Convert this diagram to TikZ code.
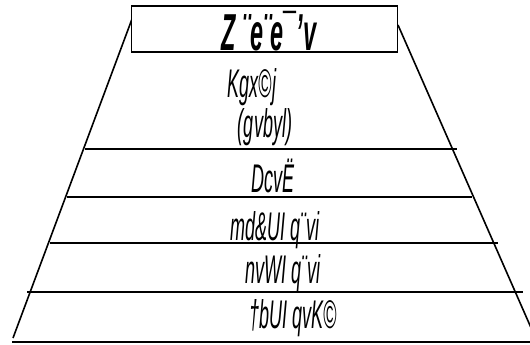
\documentclass[tikz,border=0pt]{standalone}
\usepackage{fontspec}
\setmainfont{Liberation Sans}
\newfontfamily\garb[FakeStretch=0.45]{Liberation Sans}
\begin{document}
\begin{tikzpicture}[x=1pt,y=-1pt,
  edge/.style={line width=1.6pt,line cap=butt},
  lbl/.style={font=\garb\itshape\fontsize{40}{42}\selectfont,inner sep=0pt,anchor=center},
  ttl/.style={font=\garb\bfseries\itshape\fontsize{52}{54}\selectfont,inner sep=0pt,anchor=center}]
\useasboundingbox (0,0) rectangle (530,345);
\begin{scope}
\clip (0,0) rectangle (530,345);
% sides
\coordinate (lt) at (132,19);
\coordinate (lb) at (13,338);
\coordinate (rt) at (398,25);
\coordinate (rb) at (532,330);
\draw[edge] (lt) -- (lb);
\draw[edge] (rt) -- (rb);
% horizontal dividers
\coordinate (h1a) at (85,149);  \coordinate (h1b) at (457,149);
\coordinate (h2a) at (67,197);  \coordinate (h2b) at (472,197);
\coordinate (h3a) at (50,243);  \coordinate (h3b) at (498,243);
\coordinate (h4a) at (27,292);  \coordinate (h4b) at (523,292);
\coordinate (h5a) at (12,342);  \coordinate (h5b) at (532,342);
\draw[edge] (h1a) -- (h1b);
\draw[edge] (h2a) -- (h2b);
\draw[edge] (h3a) -- (h3b);
\draw[edge] (h4a) -- (h4b);
\draw[edge] (h5a) -- (h5b);
\end{scope}
% title box
\node[draw,fill=white,line width=1.6pt,minimum width=266pt,minimum height=46pt,inner sep=0pt] (box) at (264.5,29) {};
\node[ttl] (title) at (269,31) {Z ¨e¨e¯’v};
% labels
\node[lbl] (t1) at (252,87) {Kgx©j};
\node[lbl] (t2) at (265,127) {(gvbyl)};
\node[lbl] (t3) at (273,176) {DcvË};
\node[lbl] (t4) at (275,230) {md\&UI q¨vi};
\node[lbl] (t5) at (283,273) {nvWI q¨vi};
\node[lbl] (t6) at (293,318) {†bUI qvK©};
\end{tikzpicture}
\end{document}
